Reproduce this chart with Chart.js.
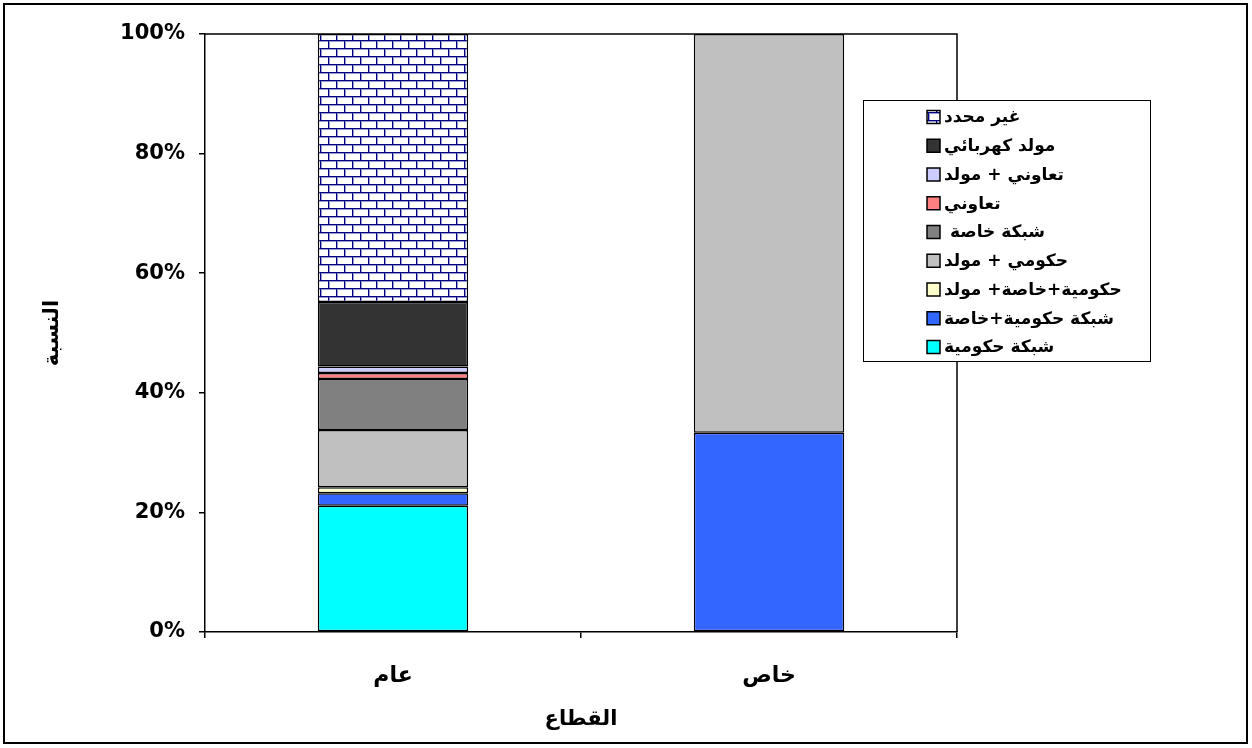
<!DOCTYPE html>
<html><head><meta charset="utf-8">
<script src="https://cdn.jsdelivr.net/npm/chart.js@4/dist/chart.umd.min.js"></script>
<style>html,body{margin:0;padding:0;background:#fff}#wrap{width:1252px;height:748px}</style>
</head><body><div id="wrap"><canvas id="c" width="1252" height="748"></canvas></div>
<script>
const categories = ['عام', 'خاص'];
const seriesNames = ['شبكة حكومية', 'شبكة حكومية+خاصة', 'حكومية+خاصة+ مولد', 'حكومي + مولد', 'شبكة خاصة ', 'تعاوني', 'تعاوني + مولد', 'مولد كهربائي', 'غير محدد'];
const publicValues  = [21.1, 2.1, 1.0, 9.6, 8.5, 1.0, 1.1, 10.8, 44.8];
const privateValues = [null, 33.3, null, 66.7, null, null, null, null, null];
const yTicks = [0, 20, 40, 60, 80, 100];
const seriesColors = ['#00FFFF', '#3366FF', '#FFFFCC', '#C0C0C0', '#808080', '#FF8080', '#CCCCFF', '#333333', 'brick'];
const yTitle = 'النسبة';
const xTitle = 'القطاع';

const ctx = document.getElementById('c').getContext('2d');
function brickPattern(){
  const p = document.createElement('canvas'); p.width = 16; p.height = 16;
  const g = p.getContext('2d');
  g.fillStyle = '#fff'; g.fillRect(0,0,16,16);
  g.fillStyle = '#9999cc';
  g.fillRect(0,1,16,1); g.fillRect(0,9,16,1); g.fillRect(1,0,1,8); g.fillRect(9,8,1,8);
  g.fillStyle = '#000080';
  g.fillRect(0,0,16,1); g.fillRect(0,8,16,1); g.fillRect(0,0,1,8); g.fillRect(8,8,1,8);
  return ctx.createPattern(p, 'repeat');
}
const brick = brickPattern();
const FONT = '"DejaVu Sans", sans-serif';

const datasets = seriesNames.map((n, i) => ({
  label: n,
  data: [publicValues[i], privateValues[i]],
  backgroundColor: seriesColors[i] === 'brick' ? brick : seriesColors[i],
  borderColor: '#000',
  borderWidth: 1.5,
  borderSkipped: false,
  barPercentage: 1,
  categoryPercentage: 0.4
}));

const framePlugin = {
  id: 'frame',
  beforeDraw(chart){
    const c = chart.ctx; c.save(); c.fillStyle = '#fff'; c.fillRect(0,0,chart.width,chart.height); c.restore();
  },
  afterDraw(chart){
    const c = chart.ctx, a = chart.chartArea;
    c.save();
    c.strokeStyle = '#000'; c.lineWidth = 2;
    c.strokeRect(4, 4, 1243, 739);
    c.lineWidth = 1.5;
    c.beginPath();
    c.moveTo(a.left, a.top); c.lineTo(a.right, a.top); c.lineTo(a.right, a.bottom);
    c.stroke();
    // legend
    const L = {x: 863, y: 100, w: 287, h: 261};
    c.fillStyle = '#fff'; c.fillRect(L.x, L.y, L.w, L.h);
    c.lineWidth = 1; c.strokeStyle = '#000';
    c.strokeRect(L.x + 0.5, L.y + 0.5, L.w, L.h);
    const ds = chart.data.datasets.slice().reverse();
    c.font = 'bold 17px ' + FONT;
    c.textBaseline = 'middle';
    c.textAlign = 'left';
    c.direction = 'rtl';
    ds.forEach((d, i) => {
      const y = 117 + i * 28.75;
      c.fillStyle = d.backgroundColor;
      c.fillRect(927, y - 6.5, 13, 13);
      c.strokeStyle = '#000'; c.lineWidth = 1.5;
      c.strokeRect(927, y - 6.5, 13, 13);
      c.fillStyle = '#000';
      c.fillText(d.label, 944, y + 1);
    });
    c.restore();
  }
};

new Chart(ctx, {
  type: 'bar',
  data: { labels: categories, datasets },
  options: {
    responsive: false,
    animation: false,
    devicePixelRatio: 1,
    layout: { padding: { top: 34, right: 295, left: 0, bottom: 0 } },
    plugins: { legend: { display: false }, tooltip: { enabled: false } },
    scales: {
      x: {
        stacked: true,
        afterFit(s){ s.height = 116; },
        grid: { offset: true, drawOnChartArea: false, drawTicks: true, tickLength: 6, color: '#000', lineWidth: 1.5 },
        border: { display: true, color: '#000', width: 1.5 },
        ticks: { color: '#000', font: { family: FONT, size: 22, weight: 'bold' }, padding: 25 },
        title: { display: true, text: xTitle, color: '#000', font: { family: FONT, size: 21, weight: 'bold' }, padding: { top: 0, bottom: 16 } }
      },
      y: {
        stacked: true,
        min: 0, max: 100,
        afterFit(s){ s.width = 205; },
        afterBuildTicks(s){ s.ticks = yTicks.map(v => ({ value: v })); },
        grid: { drawOnChartArea: false, drawTicks: true, tickLength: 6, color: '#000', lineWidth: 1.5 },
        border: { display: true, color: '#000', width: 1.5 },
        ticks: { color: '#000', font: { family: FONT, size: 21, weight: 'bold' }, padding: 14, callback: v => v + '%' },
        title: { display: true, text: yTitle, color: '#000', font: { family: FONT, size: 21, weight: 'bold' }, padding: { top: 40, bottom: 0 } }
      }
    }
  },
  plugins: [framePlugin]
});
</script></body></html>
